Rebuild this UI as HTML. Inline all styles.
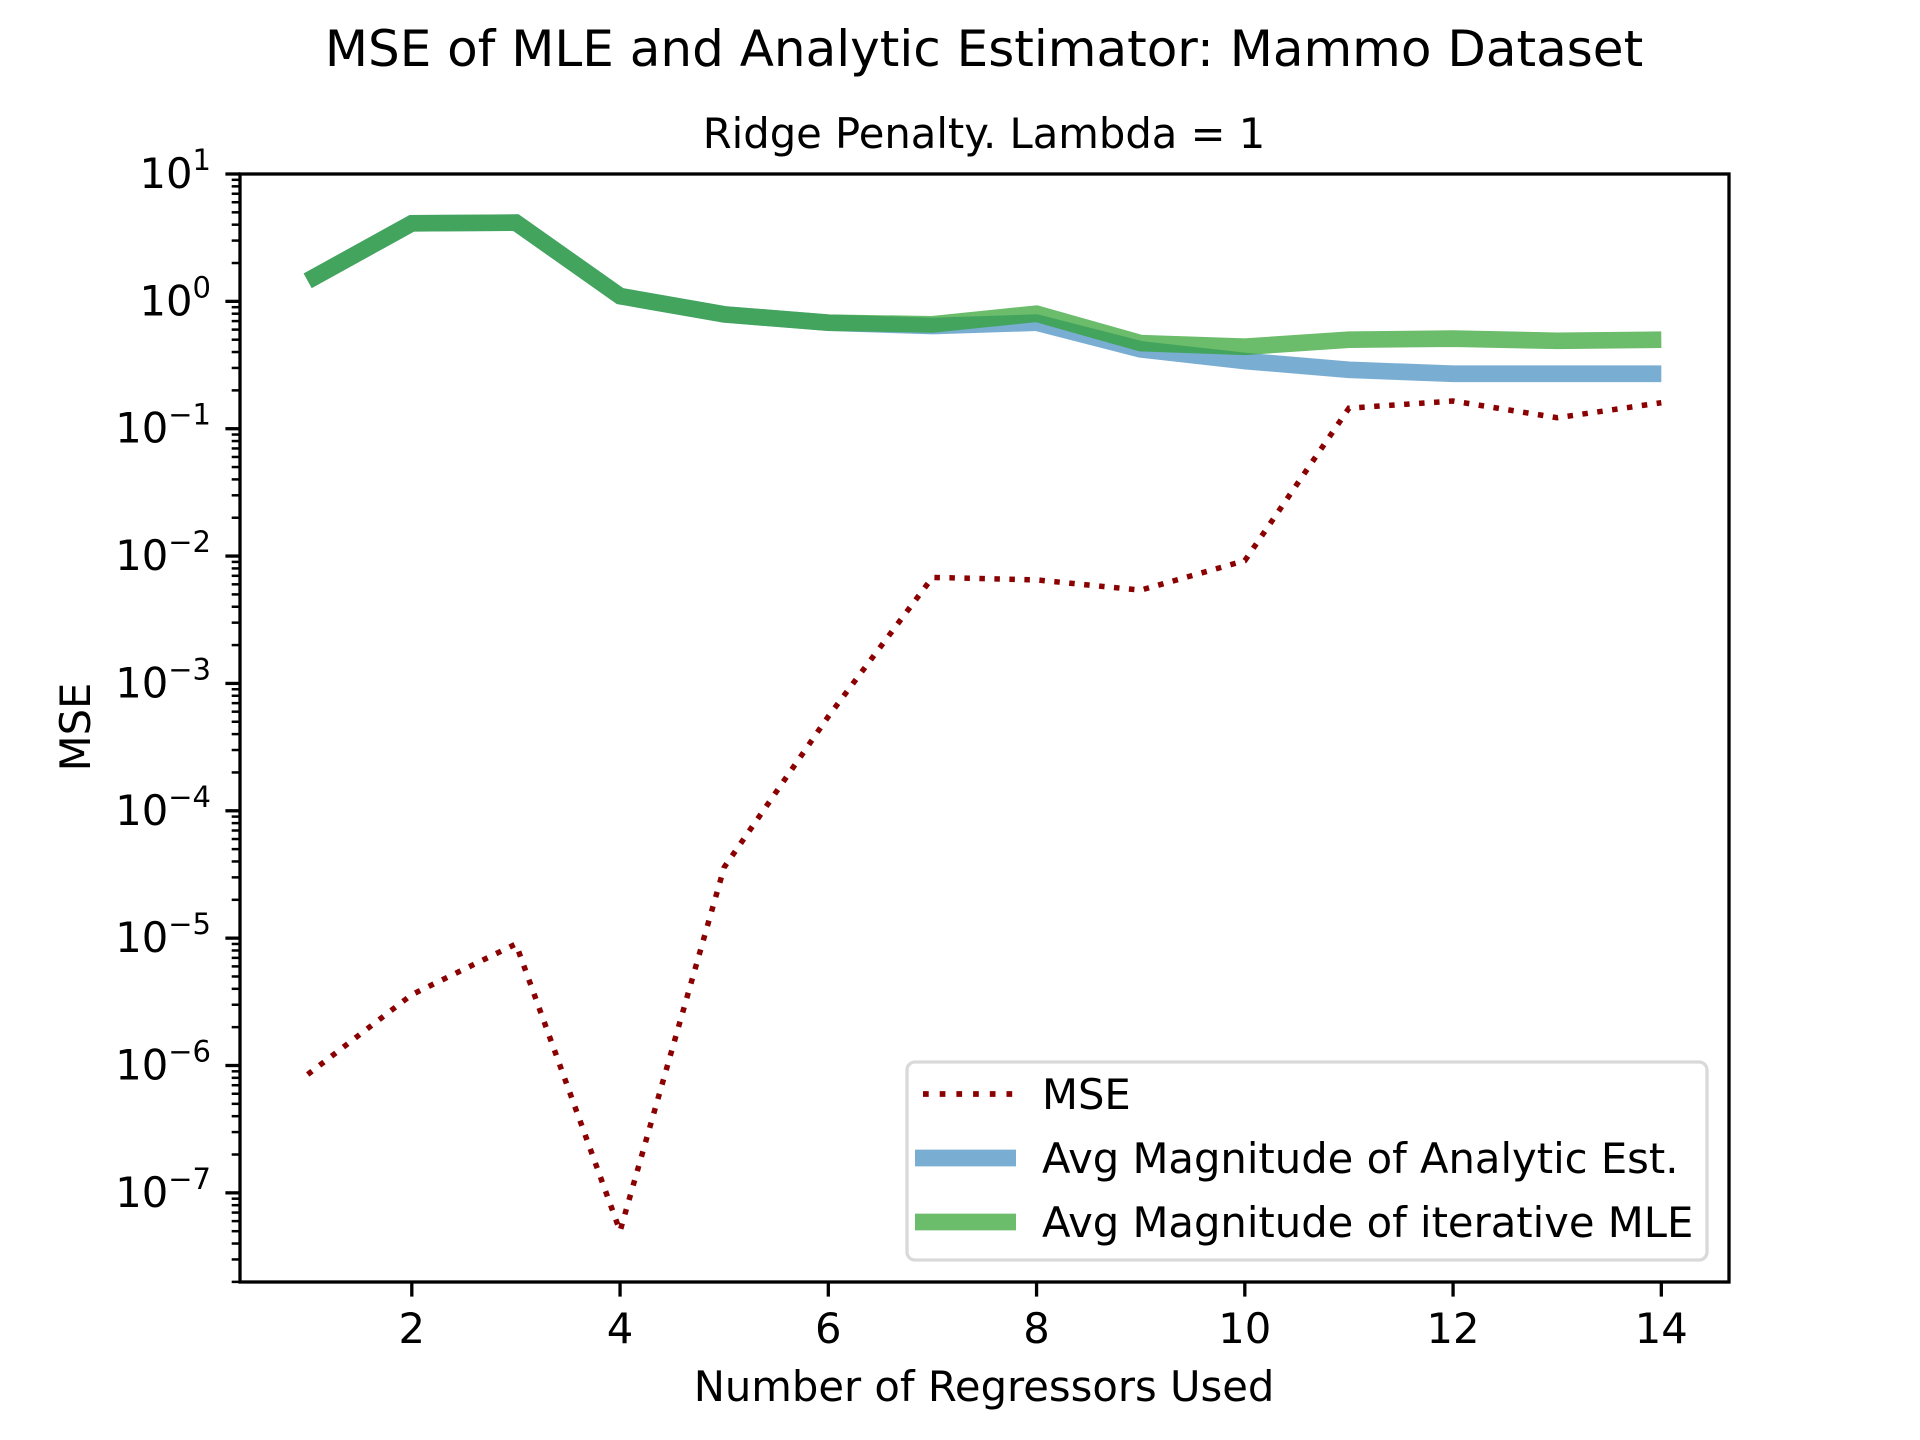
<!DOCTYPE html>
<html><head><meta charset="utf-8">
<style>
html,body{margin:0;padding:0;background:#fff;overflow:hidden;width:1920px;height:1440px;}
svg{display:block;}
svg text{font-family:"DejaVu Sans","Liberation Sans",sans-serif;fill:#000;}
</style></head>
<body>
<svg id="chart" xmlns="http://www.w3.org/2000/svg" width="1920" height="1440" viewBox="0 0 1920 1440">
<rect width="1920" height="1440" fill="#fff"/>
<text x="984" y="66" font-size="50" text-anchor="middle">MSE of MLE and Analytic Estimator: Mammo Dataset</text>
<text x="984" y="148" font-size="41.7" text-anchor="middle">Ridge Penalty. Lambda = 1</text>
<text x="984" y="1401" font-size="41.7" text-anchor="middle">Number of Regressors Used</text>
<text x="0" y="0" font-size="41.7" text-anchor="middle" transform="translate(90,727) rotate(-90)">MSE</text>
<g id="plot"></g>
</svg>
<script>
const xs = [1,2,3,4,5,6,7,8,9,10,11,12,13,14];
const mse = [8.5e-7,3.6e-6,9e-6,5e-8,3.6e-5,5.5e-4,6.8e-3,6.5e-3,5.4e-3,9.2e-3,0.145,0.165,0.122,0.16];
const analytic = [1.45,4.1,4.15,1.1,0.79,0.68,0.64,0.68,0.42,0.34,0.29,0.27,0.27,0.27];
const mle = [1.45,4.1,4.15,1.1,0.79,0.68,0.66,0.8,0.47,0.44,0.5,0.51,0.49,0.5];
const xTicks = [2,4,6,8,10,12,14];
const yExps = [-7,-6,-5,-4,-3,-2,-1,0,1];

const L=240,R=1729,T=174,B=1282;
const xMin=0.35,xMax=14.65,yMinL=-7.70,yMaxL=1;
const sx=v=>L+(v-xMin)/(xMax-xMin)*(R-L);
const sy=v=>T+(yMaxL-Math.log10(v))/(yMaxL-yMinL)*(B-T);
const NS='http://www.w3.org/2000/svg';
const g=document.getElementById('plot');
function mk(tag,attrs,parent){const e=document.createElementNS(NS,tag);for(const k in attrs)e.setAttribute(k,attrs[k]);(parent||g).appendChild(e);return e;}

const clip=mk('clipPath',{id:'cp'});mk('rect',{x:L,y:T,width:R-L,height:B-T},clip);
const pts=a=>a.map((v,i)=>sx(xs[i])+','+sy(v)).join(' ');

let p=mk('polyline',{points:pts(mse),fill:'none',stroke:'#8b0000','stroke-width':5.5,'stroke-dasharray':'5.5,9.5','clip-path':'url(#cp)'});


p=mk('polyline',{points:pts(analytic),fill:'none',stroke:'#1f77b4','stroke-opacity':0.6,'stroke-width':16.7,'clip-path':'url(#cp)'});


p=mk('polyline',{points:pts(mle),fill:'none',stroke:'#2ca02c','stroke-opacity':0.7,'stroke-width':16.7,'clip-path':'url(#cp)'});



xTicks.forEach(t=>{
  const x=sx(t);
  mk('line',{x1:x,x2:x,y1:B,y2:B+14.6,stroke:'#000','stroke-width':3.3});
  const tx=mk('text',{x:x,y:B+61,'font-size':41.7,'text-anchor':'middle'});tx.textContent=t;
  
  
});
for(let e=-8;e<=1;e++){
  for(let m=1;m<10;m++){
    const v=m*Math.pow(10,e);const lv=Math.log10(v);
    if(lv<yMinL-1e-9||lv>yMaxL+1e-9)continue;
    const y=sy(v);
    mk('line',{x1:L-(m===1?14.6:8.3),x2:L,y1:y,y2:y,stroke:'#000','stroke-width':m===1?3.3:2.5});
  }
}
yExps.forEach(e=>{
  const y=sy(Math.pow(10,e));
  const tx=mk('text',{x:211,y:y+14,'font-size':41.7,'text-anchor':'end'});
  
  
  const a=mk('tspan',{},tx);a.textContent='10';
  const b=mk('tspan',{dy:-18,'font-size':29},tx);b.textContent=(e<0?'\u2212':'')+Math.abs(e);
});
let f=mk('rect',{x:L,y:T,width:R-L,height:B-T,fill:'none',stroke:'#000','stroke-width':3.3});



const lg=mk('g',{});


mk('rect',{x:907,y:1062,width:800,height:198,rx:8,fill:'#fff','fill-opacity':0.8,stroke:'#d9d9d9','stroke-width':3.3},lg);
const items=[['MSE',{stroke:'#8b0000','stroke-width':5.7,'stroke-dasharray':'5.7,11'}],
 ['Avg Magnitude of Analytic Est.',{stroke:'#1f77b4','stroke-opacity':0.6,'stroke-width':16.7}],
 ['Avg Magnitude of iterative MLE',{stroke:'#2ca02c','stroke-opacity':0.7,'stroke-width':16.7}]];
items.forEach((it,i)=>{
  const y=1094+i*64;
  mk('line',Object.assign({x1:(i===0?923:915),x2:1016,y1:y,y2:y},it[1]),lg);
  const tx=mk('text',{x:1042,y:y+15,'font-size':41.7},lg);tx.textContent=it[0];
  
  
});
</script>
</body></html>
